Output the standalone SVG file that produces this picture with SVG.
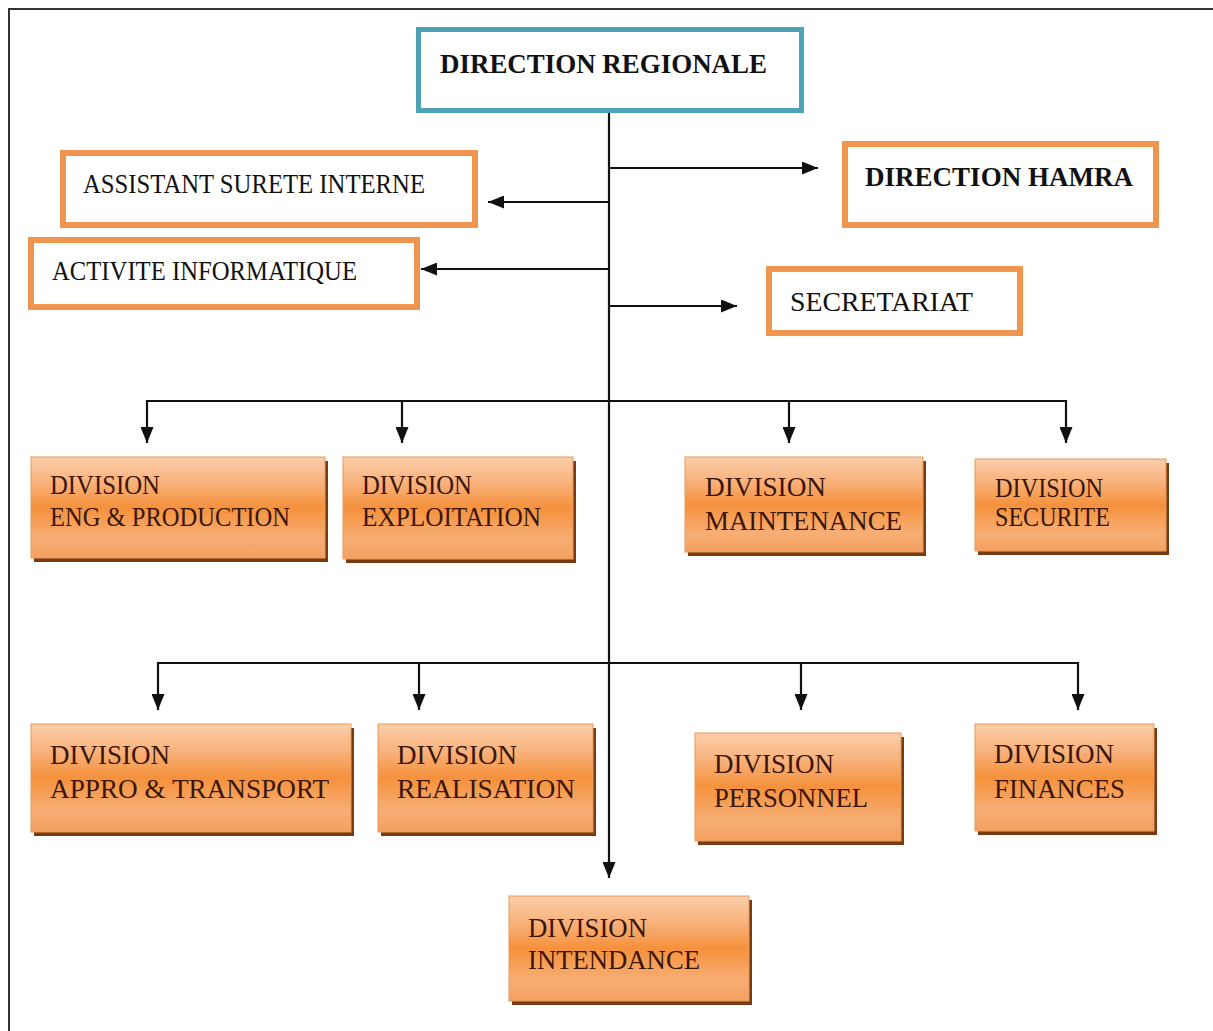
<svg xmlns="http://www.w3.org/2000/svg" width="1213" height="1031" viewBox="0 0 1213 1031">
<defs>
<linearGradient id="og" x1="0" y1="0" x2="0" y2="1">
<stop offset="0" stop-color="#fbcfab"/>
<stop offset="0.25" stop-color="#f8b27c"/>
<stop offset="0.5" stop-color="#f5913c"/>
<stop offset="0.8" stop-color="#f7ae74"/>
<stop offset="1" stop-color="#f4a060"/>
</linearGradient>
<marker id="ah" viewBox="0 0 16 13" refX="16" refY="6.5" markerWidth="16" markerHeight="13" markerUnits="userSpaceOnUse" orient="auto">
<path d="M0,0 L16,6.5 L0,13 Z" fill="#111"/>
</marker>
<style>
.t{font-family:"Liberation Serif","Times New Roman",serif;font-size:28px;fill:#111}
.b{font-weight:bold}
.d{font-family:"Liberation Serif","Times New Roman",serif;font-size:28px;fill:#3b1608}
.ob{fill:#fff;stroke:#ef9550;stroke-width:6}
.tb{fill:#fff;stroke:#4ea2b8;stroke-width:5}
.sh{fill:#7a3a12}
.dv{fill:url(#og);stroke:#e59a5c;stroke-width:1}
.c{fill:none;stroke:#111;stroke-width:2.2}
.ca{fill:none;stroke:#111;stroke-width:2.2;marker-end:url(#ah)}
</style>
</defs>
<rect width="1213" height="1031" fill="#fff"/>
<path d="M9,1031 L9,9 L1213,9" fill="none" stroke="#333" stroke-width="2"/>
<g id="connectors">
<path class="c" d="M609,113 V864"/>
<path class="ca" d="M609,168 H818"/>
<path class="ca" d="M609,202 H488"/>
<path class="ca" d="M609,269 H421"/>
<path class="ca" d="M609,306 H737"/>
<path class="c" d="M147,401 H1066"/>
<path class="ca" d="M147,400 V443"/>
<path class="ca" d="M402,400 V443"/>
<path class="ca" d="M789,400 V443"/>
<path class="ca" d="M1066,400 V443"/>
<path class="c" d="M158,663 H1078"/>
<path class="ca" d="M158,662 V710"/>
<path class="ca" d="M419,662 V710"/>
<path class="ca" d="M801,662 V710"/>
<path class="ca" d="M1078,662 V710"/>
<path class="ca" d="M609,860 V878"/>
</g>
<g id="direction-regionale">
<rect class="tb" x="418.5" y="29.5" width="383" height="81"/>
<text class="t b" x="440" y="73" textLength="327" lengthAdjust="spacingAndGlyphs">DIRECTION REGIONALE</text>
</g>
<g id="assistant-surete">
<rect class="ob" x="63" y="153" width="412" height="72"/>
<text class="t" x="83" y="193" textLength="342" lengthAdjust="spacingAndGlyphs">ASSISTANT SURETE INTERNE</text>
</g>
<g id="activite-informatique">
<rect class="ob" x="31" y="240" width="386" height="67"/>
<text class="t" x="52" y="280" textLength="305" lengthAdjust="spacingAndGlyphs">ACTIVITE INFORMATIQUE</text>
</g>
<g id="direction-hamra">
<rect class="ob" x="845" y="144" width="311" height="81"/>
<text class="t b" x="865" y="186" textLength="268" lengthAdjust="spacingAndGlyphs">DIRECTION HAMRA</text>
</g>
<g id="secretariat">
<rect class="ob" x="769" y="269" width="251" height="64"/>
<text class="t" x="790" y="311" textLength="183" lengthAdjust="spacingAndGlyphs">SECRETARIAT</text>
</g>
<g id="div-eng">
<rect class="sh" x="34" y="461" width="294" height="101"/>
<rect class="dv" x="31" y="457" width="294" height="101"/>
<text class="d" x="50" y="494" textLength="110" lengthAdjust="spacingAndGlyphs">DIVISION</text>
<text class="d" x="50" y="526" textLength="240" lengthAdjust="spacingAndGlyphs">ENG &amp; PRODUCTION</text>
</g>
<g id="div-exploitation">
<rect class="sh" x="346" y="461" width="230" height="102"/>
<rect class="dv" x="343" y="457" width="230" height="102"/>
<text class="d" x="362" y="494" textLength="110" lengthAdjust="spacingAndGlyphs">DIVISION</text>
<text class="d" x="362" y="526" textLength="179" lengthAdjust="spacingAndGlyphs">EXPLOITATION</text>
</g>
<g id="div-maintenance">
<rect class="sh" x="688" y="461" width="238" height="95"/>
<rect class="dv" x="685" y="457" width="238" height="95"/>
<text class="d" x="705" y="496" textLength="121" lengthAdjust="spacingAndGlyphs">DIVISION</text>
<text class="d" x="705" y="530" textLength="197" lengthAdjust="spacingAndGlyphs">MAINTENANCE</text>
</g>
<g id="div-securite">
<rect class="sh" x="978" y="463" width="191" height="92"/>
<rect class="dv" x="975" y="459" width="191" height="92"/>
<text class="d" x="995" y="497" textLength="108" lengthAdjust="spacingAndGlyphs">DIVISION</text>
<text class="d" x="995" y="526" textLength="115" lengthAdjust="spacingAndGlyphs">SECURITE</text>
</g>
<g id="div-appro">
<rect class="sh" x="34" y="728" width="320" height="108"/>
<rect class="dv" x="31" y="724" width="320" height="108"/>
<text class="d" x="50" y="764" textLength="120" lengthAdjust="spacingAndGlyphs">DIVISION</text>
<text class="d" x="50" y="798" textLength="279" lengthAdjust="spacingAndGlyphs">APPRO &amp; TRANSPORT</text>
</g>
<g id="div-realisation">
<rect class="sh" x="381" y="728" width="215" height="108"/>
<rect class="dv" x="378" y="724" width="215" height="108"/>
<text class="d" x="397" y="764" textLength="120" lengthAdjust="spacingAndGlyphs">DIVISION</text>
<text class="d" x="397" y="798" textLength="178" lengthAdjust="spacingAndGlyphs">REALISATION</text>
</g>
<g id="div-personnel">
<rect class="sh" x="698" y="737" width="206" height="108"/>
<rect class="dv" x="695" y="733" width="206" height="108"/>
<text class="d" x="714" y="773" textLength="120" lengthAdjust="spacingAndGlyphs">DIVISION</text>
<text class="d" x="714" y="807" textLength="154" lengthAdjust="spacingAndGlyphs">PERSONNEL</text>
</g>
<g id="div-finances">
<rect class="sh" x="978" y="728" width="179" height="107"/>
<rect class="dv" x="975" y="724" width="179" height="107"/>
<text class="d" x="994" y="763" textLength="120" lengthAdjust="spacingAndGlyphs">DIVISION</text>
<text class="d" x="994" y="798" textLength="131" lengthAdjust="spacingAndGlyphs">FINANCES</text>
</g>
<g id="div-intendance">
<rect class="sh" x="512" y="900" width="240" height="105"/>
<rect class="dv" x="509" y="896" width="240" height="105"/>
<text class="d" x="528" y="937" textLength="119" lengthAdjust="spacingAndGlyphs">DIVISION</text>
<text class="d" x="528" y="969" textLength="172" lengthAdjust="spacingAndGlyphs">INTENDANCE</text>
</g>
</svg>
